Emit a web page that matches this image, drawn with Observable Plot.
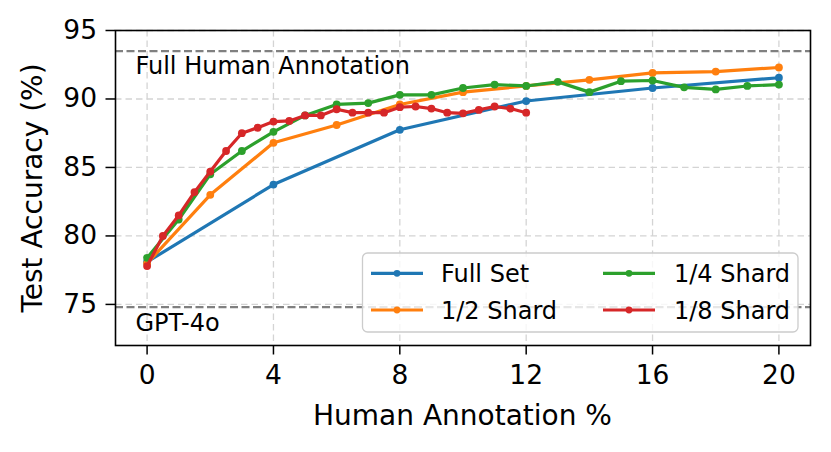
<!DOCTYPE html>
<html>
<head>
<meta charset="utf-8">
<script src="https://cdn.jsdelivr.net/npm/d3@7"></script>
<script src="https://cdn.jsdelivr.net/npm/@observablehq/plot@0.6"></script>
<style>
  html, body { margin: 0; padding: 0; background: #fff; }
  #chart svg { display: block; }
</style>
</head>
<body>
<div id="chart"></div>
<script>
// ---- data ----
const seriesNames = ["Full Set", "1/2 Shard", "1/4 Shard", "1/8 Shard"];
const seriesColors = ["#1f77b4", "#ff7f0e", "#2ca02c", "#d62728"];

const fullX = [0, 4, 8, 12, 16, 20];
const fullY = [78.1, 83.75, 87.75, 89.85, 90.8, 91.55];

const halfX = [0, 2, 4, 6, 8, 10, 12, 14, 16, 18, 20];
const halfY = [78.0, 83.0, 86.8, 88.1, 89.6, 90.5, 90.95, 91.4, 91.9, 92.0, 92.3];

const quarterX = [0, 1, 2, 3, 4, 5, 6, 7, 8, 9, 10, 11, 12, 13, 14, 15, 16, 17, 18, 19, 20];
const quarterY = [78.4, 81.2, 84.5, 86.2, 87.6, 88.8, 89.6, 89.7, 90.3, 90.3, 90.8, 91.05, 90.95, 91.25, 90.5, 91.3, 91.35, 90.85, 90.7, 90.95, 91.05];

const eighthX = [0, 0.5, 1, 1.5, 2, 2.5, 3, 3.5, 4, 4.5, 5, 5.5, 6, 6.5, 7, 7.5, 8, 8.5, 9, 9.5, 10, 10.5, 11, 11.5, 12];
const eighthY = [77.8, 80.0, 81.5, 83.2, 84.7, 86.2, 87.5, 87.9, 88.35, 88.4, 88.8, 88.8, 89.25, 89.0, 89.0, 89.0, 89.4, 89.45, 89.3, 89.0, 88.95, 89.2, 89.45, 89.3, 89.0];

const refValues = [93.5, 74.8];
const refLabels = ["Full Human Annotation", "GPT-4o"];

const xTicks = [0, 4, 8, 12, 16, 20];
const yTicks = [75, 80, 85, 90, 95];
const xLabel = "Human Annotation %";
const yLabel = "Test Accuracy (%)";

// ---- build tables ----
const seriesXs = [fullX, halfX, quarterX, eighthX];
const seriesYs = [fullY, halfY, quarterY, eighthY];
const tables = seriesNames.map((name, s) =>
  seriesXs[s].map((x, i) => ({x, y: seriesYs[s][i], series: name}))
);

const FONT = "DejaVu Sans";

const seriesMarks = tables.flatMap((rows, s) => [
  Plot.line(rows, {x: "x", y: "y", stroke: seriesColors[s], strokeWidth: 3.2}),
  Plot.dot(rows, {x: "x", y: "y", fill: seriesColors[s], r: 3.9})
]);

const plot = Plot.plot({
  width: 831,
  height: 452,
  marginLeft: 115,
  marginRight: 21,
  marginTop: 30,
  marginBottom: 107,
  x: {domain: [-1, 21], label: null},
  y: {domain: [72, 95], label: null},
  style: {fontFamily: FONT, fontSize: "26px", background: "white", color: "black", overflow: "visible"},
  marks: [
    Plot.gridX(xTicks, {stroke: "#d4d4d4", strokeOpacity: 1, strokeWidth: 1.3, strokeDasharray: "6.5,4"}),
    Plot.gridY(yTicks, {stroke: "#d4d4d4", strokeOpacity: 1, strokeWidth: 1.3, strokeDasharray: "6.5,4"}),
    Plot.ruleY(refValues, {stroke: "#808080", strokeWidth: 2.2, strokeDasharray: "8,3.5"}),
    Plot.text([refLabels[0]], {frameAnchor: "top-left", dx: 20, dy: 43.5, lineAnchor: "bottom", textAnchor: "start", fontSize: 24, fill: "black"}),
    Plot.text([refLabels[1]], {frameAnchor: "bottom-left", dx: 20, dy: -15, lineAnchor: "bottom", textAnchor: "start", fontSize: 24, fill: "black"}),
    ...seriesMarks,
    Plot.frame({stroke: "black", strokeWidth: 1.6}),
    Plot.axisX(xTicks, {tickSize: 9.5, tickPadding: 10, fontSize: 26.5, stroke: "black", strokeWidth: 1.5, label: null, tickFormat: d => String(d)}),
    Plot.axisY(yTicks, {tickSize: 9.5, tickPadding: 9, fontSize: 26.5, stroke: "black", strokeWidth: 1.5, label: null, tickFormat: d => String(d)})
  ]
});

document.getElementById("chart").appendChild(plot);

// ---- axis titles and legend (layout only) ----
const svg = d3.select(plot);

svg.append("text")
  .attr("x", 462.5).attr("y", 425)
  .attr("text-anchor", "middle")
  .attr("font-family", FONT).attr("font-size", 28)
  .attr("fill", "black")
  .text(xLabel);

svg.append("text")
  .attr("transform", "translate(42,188) rotate(-90)")
  .attr("text-anchor", "middle")
  .attr("font-family", FONT).attr("font-size", 28)
  .attr("fill", "black")
  .text(yLabel);

const lg = svg.append("g");
lg.append("rect")
  .attr("x", 362.5).attr("y", 253).attr("width", 435.5).attr("height", 79)
  .attr("rx", 5).attr("ry", 5)
  .attr("fill", "white").attr("fill-opacity", 0.8)
  .attr("stroke", "#cccccc").attr("stroke-width", 1.3);

const colX = [371, 603];
const textX = [441, 674];
const rowY = [273.3, 310];
seriesNames.forEach((name, i) => {
  const col = Math.floor(i / 2), row = i % 2;
  const g = lg.append("g");
  g.append("line")
    .attr("x1", colX[col]).attr("x2", colX[col] + 52)
    .attr("y1", rowY[row]).attr("y2", rowY[row])
    .attr("stroke", seriesColors[i]).attr("stroke-width", 3.2);
  g.append("circle")
    .attr("cx", colX[col] + 26).attr("cy", rowY[row]).attr("r", 3.4)
    .attr("fill", seriesColors[i]);
  g.append("text")
    .attr("x", textX[col]).attr("y", rowY[row] + 8.5)
    .attr("text-anchor", "start")
    .attr("font-family", FONT).attr("font-size", 24)
    .attr("fill", "black")
    .text(name);
});
</script>
</body>
</html>
